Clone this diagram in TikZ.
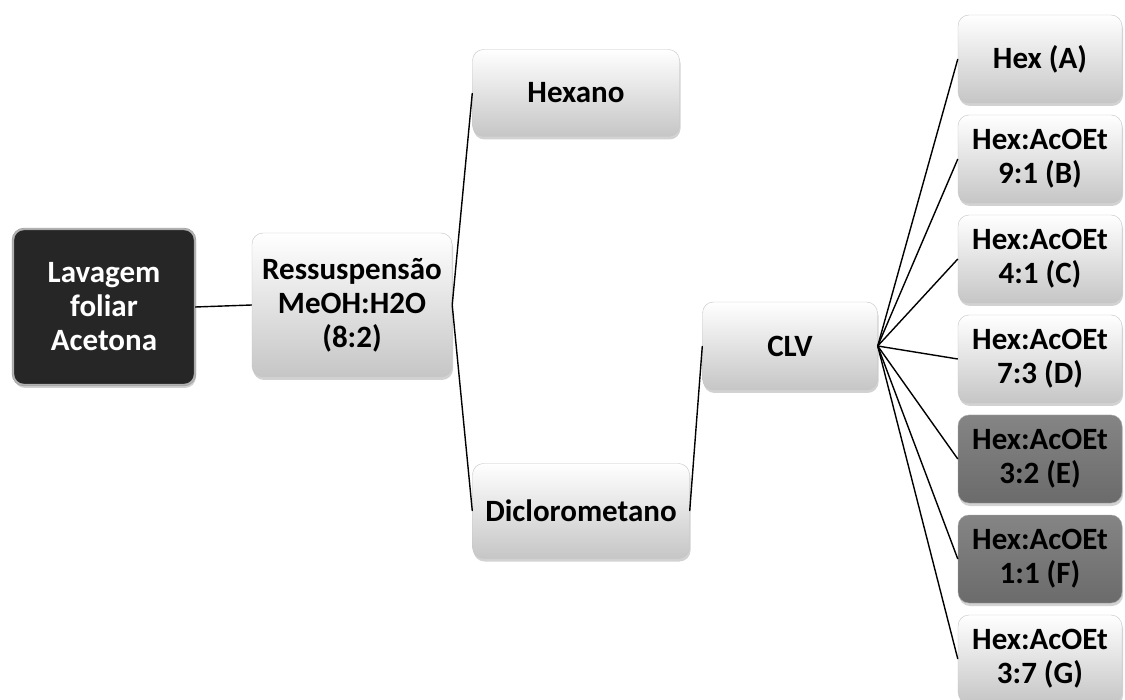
\documentclass[tikz,border=0pt]{standalone}
\usepackage{fontspec}
\setmainfont{Carlito}
\usetikzlibrary{shadows}
\begin{document}
\begin{tikzpicture}[x=1pt,y=-1pt,
  basebox/.style={rounded corners=11pt, align=center, inner sep=0pt,
    font=\bfseries\fontsize{31}{34}\selectfont,
    drop shadow={opacity=0.35, shadow xshift=1pt, shadow yshift=-3pt}},
  lightbox/.style={basebox, draw=gray!45, top color=white, bottom color=gray!45, text=black},
  greybox/.style={basebox, draw=gray!70, top color=black!48, bottom color=black!58, text=black},
  darkbox/.style={basebox, draw=gray!80, double=gray!60, double distance=1.5pt, fill=black!85, text=white},
  link/.style={draw=black, line width=1.4pt}]
\useasboundingbox (0,0) rectangle (1125,700);
\fill[white] (0,0) rectangle (1125,700);

\node[darkbox, minimum width=182pt, minimum height=156pt] (lav) at (104,307) {Lavagem\\foliar\\Acetona};
\node[lightbox, minimum width=200pt, minimum height=144pt] (res) at (352,305) {Ressuspensão\\MeOH:H2O\\(8:2)};
\node[lightbox, minimum width=207pt, minimum height=87pt] (hex) at (576,93) {Hexano};
\node[lightbox, minimum width=217pt, minimum height=95pt] (dic) at (581,511) {Diclorometano};
\node[lightbox, minimum width=175pt, minimum height=88pt] (clv) at (790,346) {CLV};

\node[lightbox, minimum width=164pt, minimum height=88pt] (a) at (1040,59) {Hex (A)};
\node[lightbox, minimum width=164pt, minimum height=88pt] (b) at (1040,159) {Hex:AcOEt\\9:1 (B)};
\node[lightbox, minimum width=164pt, minimum height=88pt] (c) at (1040,259) {Hex:AcOEt\\4:1 (C)};
\node[lightbox, minimum width=164pt, minimum height=88pt] (d) at (1040,359) {Hex:AcOEt\\7:3 (D)};
\node[greybox, minimum width=164pt, minimum height=88pt] (e) at (1040,459) {Hex:AcOEt\\3:2 (E)};
\node[greybox, minimum width=164pt, minimum height=88pt] (f) at (1040,559) {Hex:AcOEt\\1:1 (F)};
\node[lightbox, minimum width=164pt, minimum height=88pt] (g) at (1040,659) {Hex:AcOEt\\3:7 (G)};

\draw[link] (lav.east) -- (res.west);
\draw[link] (res.east) -- (hex.west);
\draw[link] (res.east) -- (dic.west);
\draw[link] (dic.east) -- (clv.west);
\foreach \n in {a,b,c,d,e,f,g}{
  \draw[link] (clv.east) -- (\n.west);
}
\end{tikzpicture}
\end{document}
